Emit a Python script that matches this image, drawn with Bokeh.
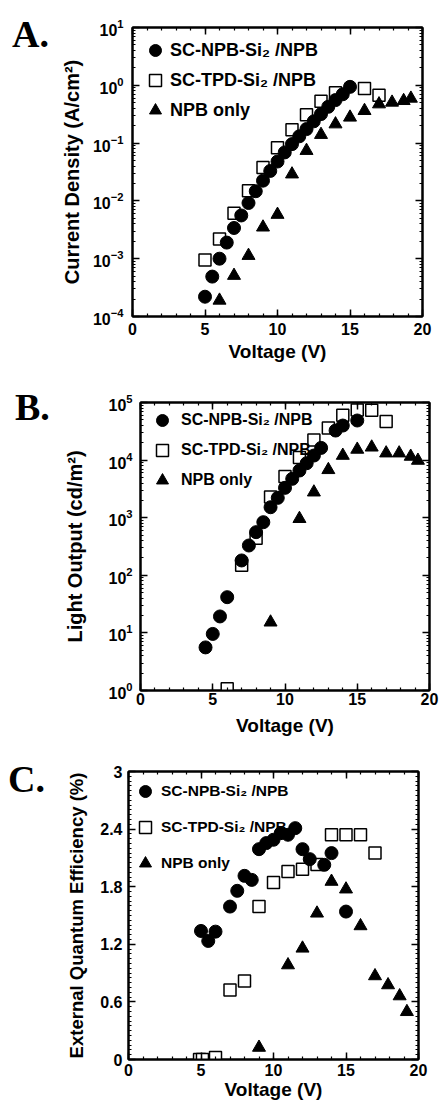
from bokeh.plotting import figure
from bokeh.layouts import row
from bokeh.models import (Range1d, LinearAxis, LogAxis, FixedTicker, Legend, LegendItem,
                          Div, CustomJSTickFormatter)
from bokeh.embed import file_html
from bokeh.resources import INLINE

# ---------------- data ----------------
series_names = ["SC-NPB-Si\u2082 /NPB", "SC-TPD-Si\u2082 /NPB", "NPB only"]

# Panel A: current density (A/cm^2) vs voltage (V)
a_npbsi_v = [5, 5.5, 6, 6.5, 7, 7.5, 8, 8.5, 9, 9.5, 10, 10.5, 11, 11.5, 12, 12.5, 13, 13.5, 14, 14.5, 15]
a_npbsi_j = [2.2e-4, 4.9e-4, 1.0e-3, 1.9e-3, 3.4e-3, 5.6e-3, 9.2e-3, 0.0147, 0.0224, 0.033, 0.048,
             0.069, 0.096, 0.131, 0.175, 0.238, 0.318, 0.425, 0.555, 0.70, 0.94]
a_tpdsi_v = [5, 6, 7, 8, 9, 10, 11, 12, 13, 14, 16, 17]
a_tpdsi_j = [9.5e-4, 2.2e-3, 6.1e-3, 0.015, 0.038, 0.083, 0.17, 0.31, 0.53, 0.74, 0.88, 0.67]
a_npb_v = [6, 7, 8, 9, 10, 11, 12, 13, 14, 15, 16, 17, 17.9, 18.7, 19.2]
a_npb_j = [1.9e-4, 5.1e-4, 1.13e-3, 3.5e-3, 5.8e-3, 0.029, 0.074, 0.14, 0.213, 0.279, 0.363,
           0.473, 0.506, 0.54, 0.593]

# Panel B: light output (cd/m^2) vs voltage (V)
b_npbsi_v = [4.5, 5, 5.5, 6, 7, 7.5, 8, 8.5, 9, 9.5, 10, 10.5, 11, 11.5, 12, 12.5, 13.5, 14, 15]
b_npbsi_l = [5.6, 9.6, 19.3, 41.7, 181, 329, 561, 836, 1520, 2210, 3300, 4730, 6590, 8830,
             12000, 16300, 32600, 39800, 48700]
b_tpdsi_v = [6, 7, 8, 9, 10, 11, 12, 13, 14, 15, 16, 17]
b_tpdsi_l = [1.07, 150, 440, 2280, 5200, 11100, 22300, 36000, 60000, 74000, 73500, 47000]
b_npb_v = [9, 11, 12, 13, 14, 15, 16, 17, 17.9, 18.7, 19.2]
b_npb_l = [15.3, 960, 2770, 6780, 12000, 15300, 16700, 13200, 13200, 11550, 9840]

# Panel C: external quantum efficiency (%) vs voltage (V)
c_npbsi_v = [5, 5.5, 6, 7, 7.5, 8, 8.5, 9, 9.5, 10, 10.5, 11, 11.5, 12, 12.5, 13.5, 14, 15]
c_npbsi_e = [1.339, 1.235, 1.332, 1.593, 1.757, 1.913, 1.871, 2.191, 2.254, 2.289, 2.358,
             2.341, 2.41, 2.191, 2.087, 2.028, 2.15, 1.541]
c_tpdsi_v = [4.9, 5.1, 6, 7, 8, 9, 10, 11, 12, 13, 14, 15, 16, 17]
c_tpdsi_e = [0, 0, 0.02, 0.723, 0.817, 1.593, 1.843, 1.958, 1.983, 2.03, 2.341, 2.341, 2.341, 2.15]
c_npb_v = [9, 11, 12, 13, 14, 15, 16, 17, 17.9, 18.7, 19.2]
c_npb_e = [0.125, 0.984, 1.158, 1.523, 1.854, 1.774, 1.391, 0.870, 0.776, 0.661, 0.497]

x_major = [0, 5, 10, 15, 20]
x_minor = list(range(0, 21))
a_y_major = [1e-4, 1e-3, 1e-2, 1e-1, 1e0, 1e1]
b_y_major = [1e0, 1e1, 1e2, 1e3, 1e4, 1e5]
c_y_major = [0, 0.6, 1.2, 1.8, 2.4, 3.0]

x_title = "Voltage (V)"
a_title = "Current Density (A/cm\u00b2)"
b_title = "Light Output (cd/m\u00b2)"
c_title = "External Quantum Efficiency (%)"
panel_letters = ["A.", "B.", "C."]

FONT = "Liberation Sans"
LETTER_W = 56


def log_minor(major):
    out = []
    for m in major[:-1]:
        for k in range(2, 10):
            out.append(m * k)
    return out


def style_axis(ax, tick_size="16px", title_size="19px"):
    ax.axis_line_width = 2
    ax.axis_line_color = "black"
    ax.major_tick_in = 7
    ax.major_tick_out = 0
    ax.minor_tick_in = 3
    ax.minor_tick_out = 0
    ax.major_tick_line_width = 1.5
    ax.minor_tick_line_width = 1.2
    ax.major_tick_line_color = "black"
    ax.minor_tick_line_color = "black"
    ax.major_label_text_font = FONT
    ax.major_label_text_font_style = "bold"
    ax.major_label_text_font_size = tick_size
    ax.major_label_text_color = "black"
    ax.axis_label_text_font = FONT
    ax.axis_label_text_font_style = "bold"
    ax.axis_label_text_font_size = title_size
    ax.axis_label_text_color = "black"


def letter_div(text, height, left, top):
    html = ('<div style="font-family:\'Liberation Serif\',serif;font-weight:bold;'
            'font-size:38px;line-height:38px;color:black;margin:0;padding:0;'
            'position:relative;left:%dpx;top:%dpx;white-space:nowrap">%s</div>'
            % (left, top, text))
    return Div(text=html, width=LETTER_W, height=height, margin=0)


def make_panel(height, border, y_log, y_range, y_major, y_minor, y_title, data,
               leg_opts, y_std, x_std, y_title_size, y_formatter=None):
    left, right, top, bottom = border
    p = figure(width=440 - LETTER_W, height=height,
               x_range=Range1d(0, 20), y_range=Range1d(*y_range),
               y_axis_type="log" if y_log else "linear",
               output_backend="svg", toolbar_location=None,
               min_border_left=left - LETTER_W, min_border_right=right,
               min_border_top=top, min_border_bottom=bottom, margin=0)
    p.xgrid.visible = False
    p.ygrid.visible = False
    p.outline_line_color = "black"
    p.outline_line_width = 2
    p.background_fill_color = "white"
    p.border_fill_color = "white"

    xt = FixedTicker(ticks=x_major, minor_ticks=x_minor)
    yt = FixedTicker(ticks=y_major, minor_ticks=y_minor)

    xa = p.xaxis[0]
    xa.ticker = xt
    xa.axis_label = x_title
    style_axis(xa)
    xa.major_label_standoff = x_std[0]
    xa.axis_label_standoff = x_std[1]

    ya = p.yaxis[0]
    ya.ticker = yt
    ya.axis_label = y_title
    style_axis(ya, title_size=y_title_size)
    ya.major_label_standoff = y_std[0]
    ya.axis_label_standoff = y_std[1]
    if y_formatter is not None:
        ya.formatter = y_formatter

    # mirrored axes (ticks only, no labels)
    blank = CustomJSTickFormatter(code="return ''")
    ta = LinearAxis(ticker=xt, formatter=blank)
    style_axis(ta)
    ta.major_label_standoff = 0
    p.add_layout(ta, "above")
    ra = LogAxis(ticker=yt, formatter=blank) if y_log else LinearAxis(ticker=yt, formatter=blank)
    style_axis(ra)
    ra.major_label_standoff = 0
    p.add_layout(ra, "right")

    (v1, y1), (v2, y2), (v3, y3) = data
    r_sq = p.scatter(v2, y2, marker="square", size=12, fill_color="white",
                     line_color="black", line_width=1.5)
    r_ci = p.scatter(v1, y1, marker="circle", size=13, fill_color="black",
                     line_color="black")
    r_tr = p.scatter(v3, y3, marker="triangle", size=13, fill_color="black",
                     line_color="black")

    margin, gw, gh, spacing, standoff, fsize = leg_opts
    leg = Legend(items=[LegendItem(label=series_names[0], renderers=[r_ci]),
                        LegendItem(label=series_names[1], renderers=[r_sq]),
                        LegendItem(label=series_names[2], renderers=[r_tr])],
                 location="top_left", margin=margin, padding=0, spacing=spacing,
                 glyph_width=gw, glyph_height=gh, label_standoff=standoff,
                 label_text_font=FONT, label_text_font_style="bold",
                 label_text_font_size=fsize, label_text_color="black",
                 border_line_color=None, background_fill_alpha=0)
    p.add_layout(leg)
    return p


pA = make_panel(370, (132, 18, 27, 54), True, (1e-4, 1e1), a_y_major, log_minor(a_y_major),
                a_title,
                [(a_npbsi_v, a_npbsi_j), (a_tpdsi_v, a_tpdsi_j), (a_npb_v, a_npb_j)],
                (8, 30, 30, -7, 0, "18px"), (9, 7), (6, 3), "20px")

pB = make_panel(375, (140, 11, 32, 55), True, (1e0, 1e5), b_y_major, log_minor(b_y_major),
                b_title,
                [(b_npbsi_v, b_npbsi_l), (b_tpdsi_v, b_tpdsi_l), (b_npb_v, b_npb_l)],
                (3, 38, 30, -10, 0, "16px"), (8, 19), (2, 7), "20px")

fmt = CustomJSTickFormatter(code="return String(Math.round(tick*10)/10)")
pC = make_panel(358, (128, 22, 26, 44), False, (0, 3), c_y_major,
                [i * 0.05 for i in range(61)], c_title,
                [(c_npbsi_v, c_npbsi_e), (c_tpdsi_v, c_tpdsi_e), (c_npb_v, c_npb_e)],
                (2, 30, 36, -17, 1, "15.5px"), (6, 10), (4, 0), "18.5px", y_formatter=fmt)

rows = [row(letter_div(panel_letters[0], 370, 12, 15), pA, spacing=0),
        row(letter_div(panel_letters[1], 375, 15, 18), pB, spacing=0),
        row(letter_div(panel_letters[2], 358, 8, 15), pC, spacing=0)]

open("out.html", "w").write(file_html(rows, INLINE))
